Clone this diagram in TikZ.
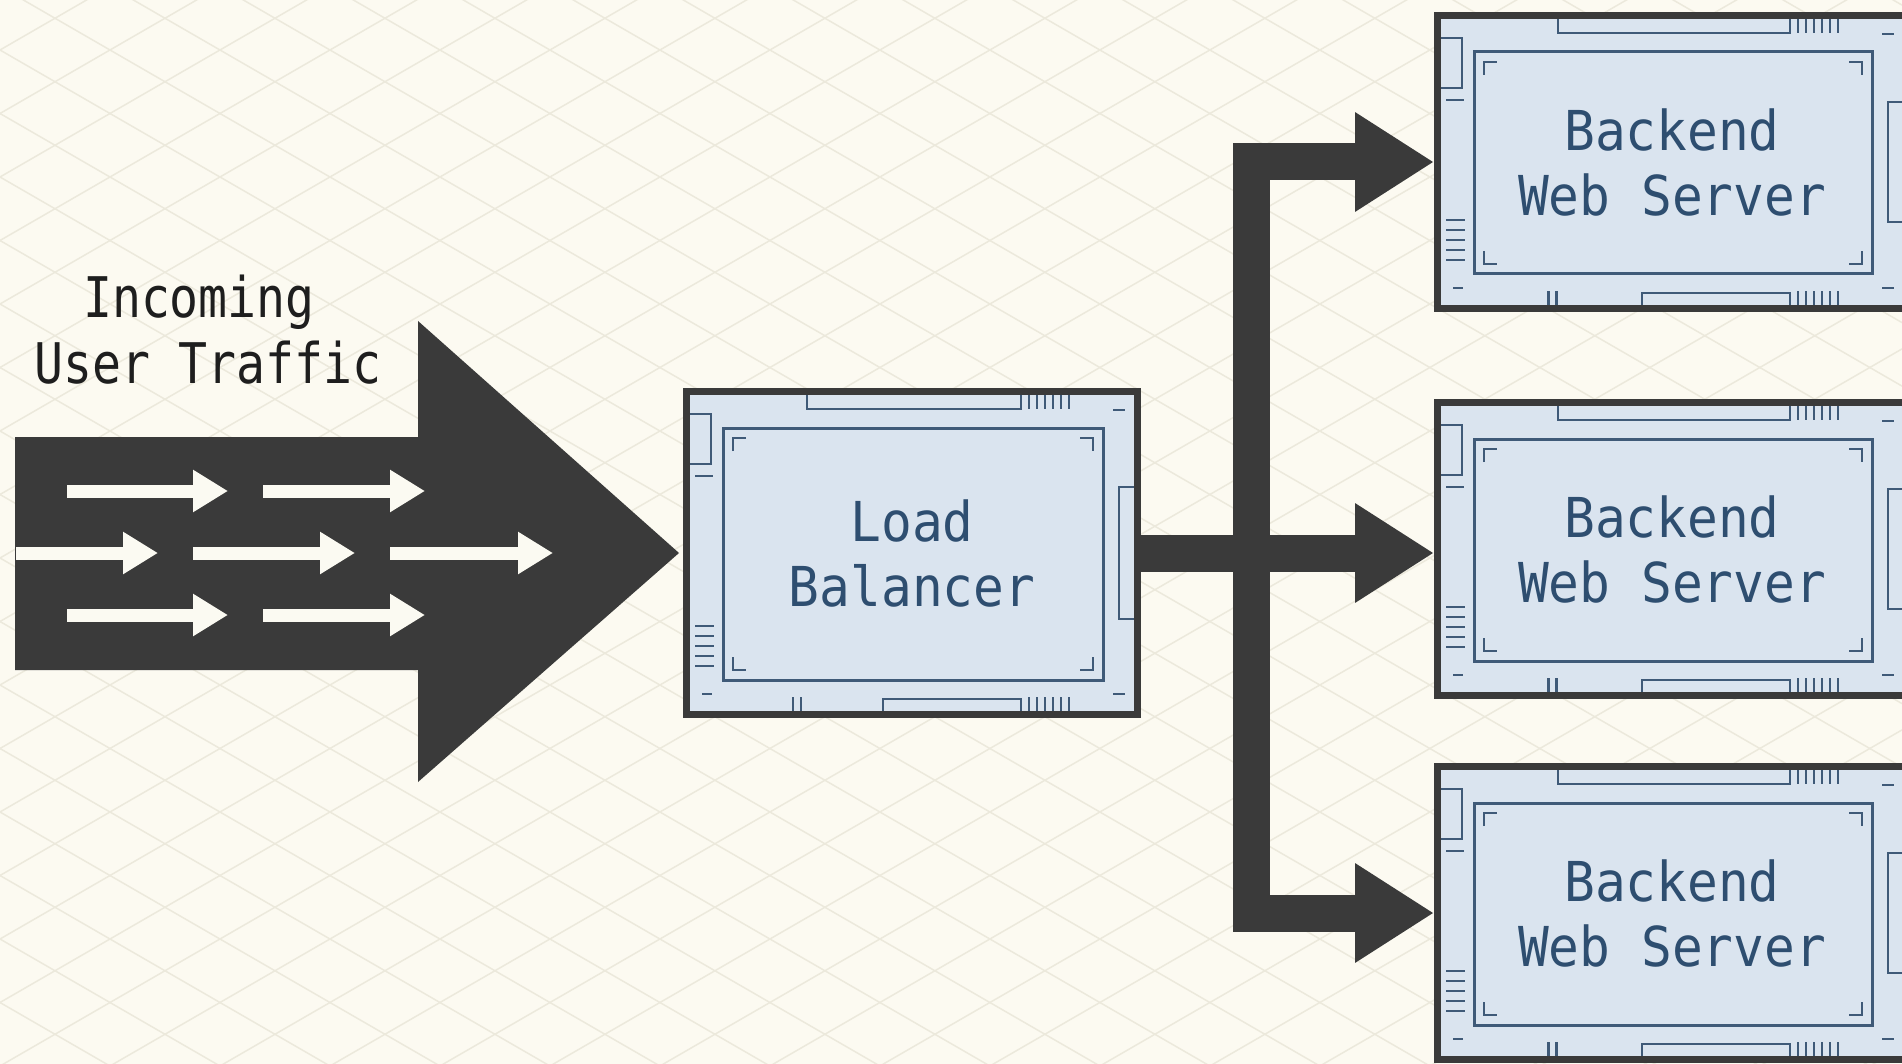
\documentclass[tikz,border=0pt]{standalone}
\usepackage{fontspec}
\usetikzlibrary{arrows.meta,calc}
\newfontfamily\lblfont[FakeStretch=0.86]{DejaVu Sans Mono}
\newfontfamily\boxfont[FakeStretch=0.93]{DejaVu Sans Mono}
\definecolor{bgc}{HTML}{FCFAF1}
\definecolor{gridc}{HTML}{ECE9DC}
\definecolor{darkc}{HTML}{3A3A3A}
\definecolor{boxfill}{HTML}{DAE4EF}
\definecolor{decoc}{HTML}{3F5A78}
\definecolor{boxtext}{HTML}{2E4E70}
\definecolor{lbltext}{HTML}{1E1E1E}
\definecolor{warrowc}{HTML}{FBFAF2}
\newcommand{\srvdeco}[3]{%
  \begin{scope}[shift={(#1.north west)}]
    \def\bw{#2}\def\bh{#3}
    \draw[deco, line width=3pt] (40,40) rectangle ({\bw-38},{\bh-38});
    % top bar
    \draw[deco] (124,7) -- (124,21) -- ({\bw-120},21) -- ({\bw-120},7);
    \foreach \k in {0,...,5} \draw[deco] ({\bw-112+8*\k},7) -- ++(0,14);
    % bottom bar
    \draw[deco] ({0.437*\bw},{\bh-7}) -- ({0.437*\bw},{\bh-19}) -- ({\bw-120},{\bh-19}) -- ({\bw-120},{\bh-7});
    \foreach \k in {0,...,5} \draw[deco] ({\bw-112+8*\k},{\bh-7}) -- ++(0,-14);
    \draw[deco] ({0.24*\bw},{\bh-7}) -- ++(0,-14);
    \draw[deco] ({0.24*\bw+8},{\bh-7}) -- ++(0,-14);
    % left side
    \draw[deco] (7,26) -- (28,26) -- (28,76) -- (7,76);
    \draw[deco] (12,88) -- (30,88);
    \foreach \k in {0,...,4} \draw[deco] (12,{\bh-92+10*\k}) -- (31,{\bh-92+10*\k});
    \draw[deco] (19,{\bh-24}) -- (29,{\bh-24});
    % right side
    \draw[deco] ({\bw-28},22) -- ({\bw-16},22);
    \draw[deco] ({\bw-28},{\bh-24}) -- ({\bw-16},{\bh-24});
    \draw[deco] ({\bw-7},{0.3*\bh}) -- ({\bw-22},{0.3*\bh}) -- ({\bw-22},{0.7*\bh}) -- ({\bw-7},{0.7*\bh});
    % corner marks
    \draw[deco] (50,63) -- (50,50) -- (63,50);
    \draw[deco] ({\bw-61},50) -- ({\bw-48},50) -- ({\bw-48},63);
    \draw[deco] (50,{\bh-61}) -- (50,{\bh-48}) -- (63,{\bh-48});
    \draw[deco] ({\bw-61},{\bh-48}) -- ({\bw-48},{\bh-48}) -- ({\bw-48},{\bh-61});
  \end{scope}}
\begin{document}
\begin{tikzpicture}[x=1pt,y=-1pt,
  srv/.style={draw=darkc, line width=7pt, fill=boxfill, inner sep=0pt,
    align=center, text=boxtext, font=\boxfont\fontsize{55}{65}\selectfont},
  deco/.style={draw=decoc, line width=2.5pt},
  gridline/.style={draw=gridc, line width=1.5pt},
  conn/.style={draw=darkc, line width=37pt, line join=miter},
  bigtip/.tip={Triangle[length=79pt,width=94pt]},
  wtip/.tip={Triangle[length=35pt,width=40pt]},
  warrow/.style={draw=warrowc, line width=13pt, -{wtip}},
  lbl/.style={text=lbltext, inner sep=0pt, anchor=base, font=\lblfont\fontsize{56}{65}\selectfont}]
\useasboundingbox (0,0) rectangle (1902,1064);
\clip (0,0) rectangle (1902,1064);
\fill[bgc] (0,0) rectangle (1902,1064);
% isometric background grid
\foreach \k in {-18,...,16}
  \draw[gridline] (0,{50+63.5*\k}) -- (1902,{50+63.5*\k+1098.1});
\foreach \k in {-1,...,34}
  \draw[gridline] (0,{50+63.5*\k}) -- (1902,{50+63.5*\k-1098.1});

% nodes
\node[srv, minimum width=451pt, minimum height=323pt] (lb) at (912,553) {Load\\Balancer};
\node[srv, minimum width=469pt, minimum height=293pt] (b1) at (1672,162) {Backend\\Web Server};
\node[srv, minimum width=469pt, minimum height=293pt] (b2) at (1672,549) {Backend\\Web Server};
\node[srv, minimum width=469pt, minimum height=293pt] (b3) at (1672,913) {Backend\\Web Server};
\srvdeco{lb}{458}{330}
\srvdeco{b1}{476}{300}
\srvdeco{b2}{476}{300}
\srvdeco{b3}{476}{300}

% label
\node[lbl] (t1) at (199,318) {Incoming};
\node[lbl] (t2) at (208,383) {User Traffic};

% big incoming arrow
\fill[darkc] (15,437) -- (418,437) -- (418,321) -- ($(lb.west)+(-4,0)$) -- (418,782) -- (418,670) -- (15,670) -- cycle;
\draw[warrow] (67,491) -- (228,491);
\draw[warrow] (263,491) -- (425,491);
\draw[warrow] (16,553) -- (158,553);
\draw[warrow] (193,553) -- (355,553);
\draw[warrow] (390,553) -- (553,553);
\draw[warrow] (67,615) -- (228,615);
\draw[warrow] (263,615) -- (425,615);

% connectors
\coordinate (bus) at (1251,553);
\draw[conn, {bigtip}-{bigtip}] (b1.west) -| (bus) |- (b3.west);
\draw[conn, -{bigtip}] (lb.east) -- (lb.east -| b2.west);
\end{tikzpicture}
\end{document}
